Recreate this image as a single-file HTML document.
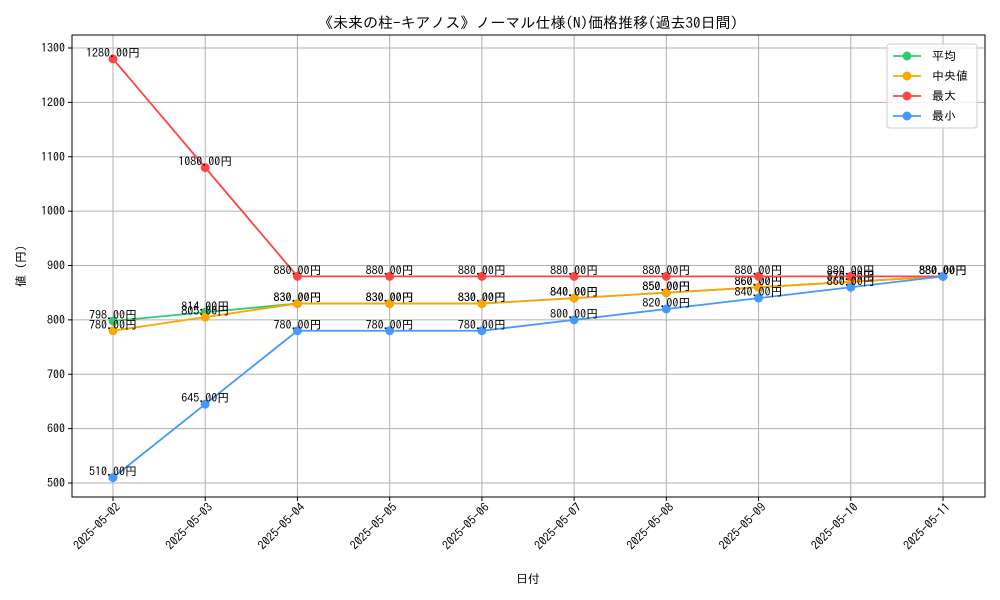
<!DOCTYPE html>
<html><head><meta charset="utf-8"><style>
body{margin:0;background:#fff}
svg{display:block;font-family:"IPAGothic","Noto Sans CJK JP",sans-serif}
</style></head><body>
<svg id="chart" width="1000" height="600" viewBox="0 0 1000 600">
<rect width="1000" height="600" fill="#fff"/>
<text x="528" y="28" text-anchor="middle" font-size="15">《未来の柱-キアノス》ノーマル仕様(N)価格推移(過去30日間)</text>
<g id="grid"></g>
<g id="series"></g>
<rect x="72" y="35" width="913" height="462" fill="none" stroke="#000" stroke-width="1"/>
<g id="axes"></g>
<text x="528" y="583" text-anchor="middle" font-size="12">日付</text>
<text transform="translate(25,266) rotate(-90)" text-anchor="middle" font-size="12">値 (円)</text>
<g id="legend"></g>
</svg>
<script>
const dates = ["2025-05-02","2025-05-03","2025-05-04","2025-05-05","2025-05-06","2025-05-07","2025-05-08","2025-05-09","2025-05-10","2025-05-11"];
const avgValues = [798,814,830,830,830,840,850,860,870,880];
const medianValues = [780,805,830,830,830,840,850,860,870,880];
const maxValues = [1280,1080,880,880,880,880,880,880,880,880];
const minValues = [510,645,780,780,780,800,820,840,860,880];
const yTicks = [500,600,700,800,900,1000,1100,1200,1300];
const seriesNames = ["平均","中央値","最大","最小"];

const NS="http://www.w3.org/2000/svg";
function xS(i){return 113+i*(943-113)/(dates.length-1);}
function yS(v){return 483-(v-500)*(483-48)/800;}
function mk(tag,attrs,parent){const e=document.createElementNS(NS,tag);for(const k in attrs)e.setAttribute(k,attrs[k]);parent.appendChild(e);return e;}
const grid=document.getElementById('grid'),axes=document.getElementById('axes'),ser=document.getElementById('series'),leg=document.getElementById('legend');
yTicks.forEach(t=>{
  const y=yS(t);
  const gl=mk('line',{x1:72,x2:985,y1:y,y2:y,stroke:'#b0b0b0','stroke-width':1},grid);
  
  
  mk('line',{x1:68,x2:72,y1:y,y2:y,stroke:'#000'},axes);
  const tx=mk('text',{x:65,y:y+4,'text-anchor':'end','font-size':12},axes);
  tx.textContent=t;
  
  
});
dates.forEach((d,i)=>{
  const x=xS(i);
  const gl=mk('line',{x1:x,x2:x,y1:35,y2:497,stroke:'#b0b0b0','stroke-width':1},grid);
  
  
  mk('line',{x1:x,x2:x,y1:497,y2:501,stroke:'#000'},axes);
  const tx=mk('text',{x:0,y:0,'text-anchor':'end','font-size':12,transform:`translate(${x+8},${508}) rotate(-45)`},axes);
  tx.textContent=d;
  
  
});
const series=[[avgValues,'#2ecc71','avg'],[medianValues,'#ffa500','median'],[maxValues,'#ff4444','max'],[minValues,'#4499ff','min']];
series.forEach(([vals,col,key])=>{
  const g=mk('g',{},ser);
  
  
  const pl=mk('polyline',{points:vals.map((v,i)=>xS(i)+','+yS(v)).join(' '),fill:'none',stroke:col,'stroke-width':1.8},g);
  
  
  vals.forEach((v,i)=>{
    const c=mk('circle',{cx:xS(i),cy:yS(v),r:4.5,fill:col},g);
    
    
    const t=mk('text',{x:xS(i),y:yS(v)-2,'text-anchor':'middle','font-size':12},g);
    t.textContent=v.toFixed(2)+'円';
    
    
  });
});
mk('rect',{x:887,y:44,width:90,height:84,rx:3,fill:'#fff','fill-opacity':0.8,stroke:'#ccc'},leg);
series.forEach(([vals,col,key],i)=>{
  const y=56+i*20;
  const g=mk('g',{},leg);
  
  
  mk('line',{x1:893,x2:921,y1:y,y2:y,stroke:col,'stroke-width':1.8},g);
  mk('circle',{cx:907,cy:y,r:4.5,fill:col},g);
  const t=mk('text',{x:932,y:y+4,'font-size':12},g);
  t.textContent=(i==1?' ':'')+seriesNames[i];
});
</script>
</body></html>
